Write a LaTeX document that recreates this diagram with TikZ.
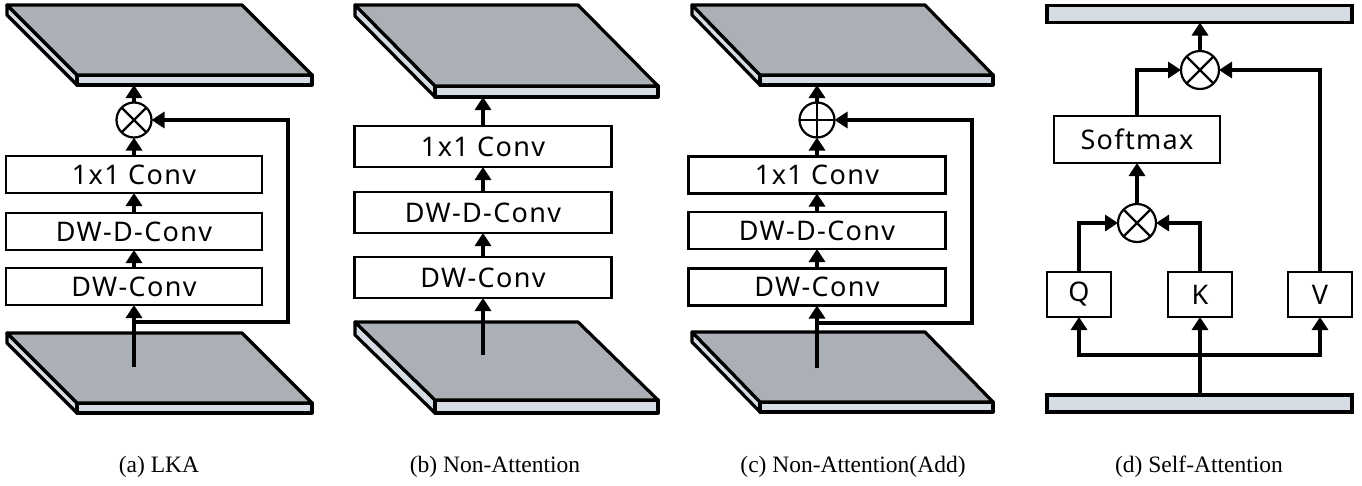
\documentclass[tikz,border=0pt]{standalone}
\usepackage{fontspec}
\setmainfont{Liberation Serif}
\setsansfont[LetterSpace=5]{Noto Sans}
\usetikzlibrary{arrows.meta}
\usetikzlibrary{calc}

\definecolor{facegray}{RGB}{171,175,182}
\definecolor{slabblue}{RGB}{214,220,228}

\tikzset{
  face/.style={fill=facegray,draw,line width=3.2pt,line join=round},
  slab/.style={fill=slabblue,draw,line width=3.2pt,line join=round},
  convbox/.style={draw,line width=2.6pt,fill=white,inner sep=0pt,outer sep=0pt,
    minimum width=256pt,minimum height=37pt,font=\fontsize{27}{30}\selectfont\sffamily},
  qkv/.style={convbox,minimum width=64pt,minimum height=45pt},
  opnode/.style={circle,draw,line width=2.2pt,inner sep=0pt,outer sep=0pt,minimum size=35pt},
  flow/.style={line width=4pt,line join=miter,-{Triangle[length=13pt,width=16pt]}},
  bar/.style={fill=slabblue,draw,line width=3.2pt,inner sep=0pt,outer sep=0pt,
    minimum width=305pt,minimum height=17pt},
  caption/.style={font=\fontsize{23.5}{27}\selectfont}
}

\begin{document}
\begin{tikzpicture}[x=1pt,y=-1pt]
\useasboundingbox (0,0) rectangle (1362,485);

% feature planes
\foreach \px/\py/\pw/\pdx/\pdy/\pt in {7/5/235/70/70/10, 7/333/235/70/70/10,
    355/5/223/80/81/11, 355/322/223/80/78/13, 692/5/233/68/70/10, 692/332/233/68/70/10}
{
    \draw[slab] (\px,\py) -- (\px+\pdx,\py+\pdy) -- (\px+\pdx,\py+\pdy+\pt) -- (\px,\py+\pt) -- cycle;
    \draw[slab] (\px+\pdx,\py+\pdy) -- ++(\pw,0) -- ++(0,\pt) -- ++(-\pw,0) -- cycle;
    \draw[face] (\px,\py) -- ++(\pw,0) -- ++(\pdx,\pdy) -- ++(-\pw,0) -- cycle;
}

% (a) LKA
\coordinate (a-out) at (134,85);
\node[opnode](a-op) at (134,120) {};
\draw[line width=2.2pt] (a-op.north west) -- (a-op.south east) (a-op.north east) -- (a-op.south west);
\node[convbox](a-pw) at (134,174.5) {1x1 Conv};
\node[convbox](a-dd) at (134,231.5) {DW-D-Conv};
\node[convbox](a-dw) at (134,286.5) {DW-Conv};
\coordinate (a-in) at (134,367);
\coordinate (a-split) at (134,322);
\coordinate (a-fb) at (288,322);

\foreach \from/\to in {a-in/a-dw, a-dw/a-dd, a-dd/a-pw, a-pw/a-op, a-op/a-out}
    \draw[flow] (\from) -- (\to);
\draw[flow] (a-split) -- (a-fb) |- (a-op.east);

\node[caption](cap-a) at (159,467) {(a) LKA};

% (b) Non-Attention
\coordinate (b-out) at (483,97);
\node[convbox,minimum width=257pt,minimum height=41pt](b-pw) at (483,146.5) {1x1 Conv};
\node[convbox,minimum width=257pt,minimum height=41pt](b-dd) at (483,212.5) {DW-D-Conv};
\node[convbox,minimum width=257pt,minimum height=41pt](b-dw) at (483,277.5) {DW-Conv};
\coordinate (b-in) at (483,355);

\foreach \from/\to in {b-in/b-dw, b-dw/b-dd, b-dd/b-pw, b-pw/b-out}
    \draw[flow] (\from) -- (\to);

\node[caption](cap-b) at (495,467) {(b) Non-Attention};

% (c) Non-Attention(Add)
\coordinate (c-out) at (817,85);
\node[opnode](c-op) at (817,120) {};
\draw[line width=2.2pt] (c-op.north) -- (c-op.south) (c-op.west) -- (c-op.east);
\node[convbox,minimum width=257pt](c-pw) at (817,175) {1x1 Conv};
\node[convbox,minimum width=257pt](c-dd) at (817,230.5) {DW-D-Conv};
\node[convbox,minimum width=257pt](c-dw) at (817,287) {DW-Conv};
\coordinate (c-in) at (817,368);
\coordinate (c-split) at (817,323);
\coordinate (c-fb) at (972,323);

\foreach \from/\to in {c-in/c-dw, c-dw/c-dd, c-dd/c-pw, c-pw/c-op, c-op/c-out}
    \draw[flow] (\from) -- (\to);
\draw[flow] (c-split) -- (c-fb) |- (c-op.east);

\node[caption](cap-c) at (853,467) {(c) Non-Attention(Add)};

% (d) Self-Attention
\node[bar](d-out) at (1199.5,14) {};
\node[bar](d-in) at (1199.5,403.5) {};
\node[opnode,minimum size=38pt](d-op2) at (1200,70) {};
\draw[line width=2.2pt] (d-op2.north west) -- (d-op2.south east) (d-op2.north east) -- (d-op2.south west);
\node[convbox,minimum width=166pt,minimum height=47pt](d-sm) at (1137,139.5) {Softmax};
\node[opnode,minimum size=38pt](d-op1) at (1137,223) {};
\draw[line width=2.2pt] (d-op1.north west) -- (d-op1.south east) (d-op1.north east) -- (d-op1.south west);
\node[qkv](d-q) at (1079,294.5) {Q};
\node[qkv](d-k) at (1200,294.5) {K};
\node[qkv](d-v) at (1320,294.5) {V};
\coordinate (d-split) at (1200,355);

\draw[flow] (d-op2) -- (d-op2 |- d-out.south);
\draw[flow] (d-sm.north) |- (d-op2.west);
\draw[flow] (d-v.north) |- (d-op2.east);
\draw[flow] (d-op1) -- (d-sm);
\draw[flow] (d-q.north) |- (d-op1.west);
\draw[flow] (d-k.north) |- (d-op1.east);
\draw[flow] (d-in.north -| d-k) -- (d-k);
\draw[flow] (d-split) -| (d-q.south);
\draw[flow] (d-split) -| (d-v.south);

\node[caption](cap-d) at (1199,467) {(d) Self-Attention};

\end{tikzpicture}
\end{document}
